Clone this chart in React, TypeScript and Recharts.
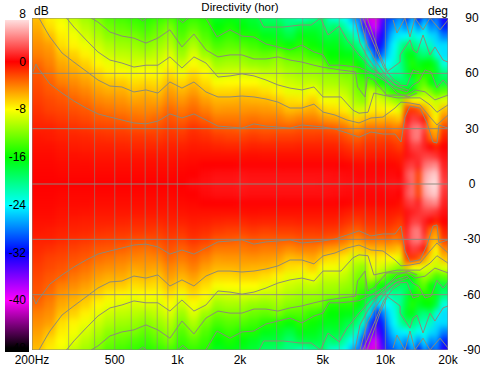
import { Bar, BarChart, Scatter, ScatterChart, XAxis, YAxis } from 'recharts';

const FONT = '"Liberation Sans", sans-serif';
const FREQ_TICKS = [200, 500, 1000, 2000, 5000, 10000, 20000];
const ANGLE_TICKS = [90, 60, 30, 0, -30, -60, -90];
const DB_TICKS = [8, 0, -8, -16, -24, -32, -40, -48];
const MINOR_FREQS = [300, 400, 500, 600, 700, 800, 900, 1000, 2000, 3000, 4000, 5000, 6000, 7000, 8000, 9000, 10000];
const MAJOR_ANGLES = [60, 30, 0, -30, -60];
const BORDER_FREQS = [200, 20000];
const BORDER_ANGLES = [90, -90];

// rows of the map, the picture is mirrored around 0 deg
const ANGLES = [90, 85, 80, 75, 70, 65, 60, 55, 50, 45, 40, 35, 30, 25, 20, 15, 10, 5, 0];
const FREQS = [
  214, 244, 279, 318, 364, 415, 474, 541, 618, 706, 806, 921, 1052, 1201, 1372, 1567, 1790, 2044, 2334, 2666, 3044,
  3477, 3971, 4535, 5012, 5356, 5724, 6117, 6537, 6986, 7466, 7979, 8527, 9113, 9739, 10408, 11123, 11887, 12704,
  13577, 14509, 15506, 16571, 17709, 18926,
];

// one list per frequency, same order as ANGLES
const DB_BY_FREQ = [
  [-6, -5.5, -5, -4.5, -4, -3.3, -2.7, -2.5, -2.2, -1.9, -1.6, -1.3, -1, -0.7, -0.5, -0.3, -0.2, -0.1, 0],
  [-7.5, -7, -6, -5, -4.5, -4, -3.5, -3, -2.7, -2.3, -2, -1.5, -1, -0.8, -0.5, -0.3, -0.2, -0.1, 0],
  [-8.5, -8, -7.5, -7, -6, -5.3, -4.7, -4, -3, -2.6, -2.2, -1.8, -1.3, -1, -0.7, -0.5, -0.3, -0.2, 0],
  [-10, -9, -8.3, -7.7, -6.6, -5.8, -5.2, -4.4, -3.7, -3, -2.5, -2, -1.5, -1.1, -0.8, -0.5, -0.3, -0.2, 0],
  [-11, -10.2, -9.4, -8.5, -7.6, -6.6, -5.8, -5, -4.2, -3.5, -2.8, -2.3, -1.7, -1.2, -0.9, -0.6, -0.3, -0.2, 0],
  [-12.2, -11.3, -10.5, -9.6, -8.7, -7.8, -6.7, -5.8, -5, -4.2, -3.4, -2.7, -2, -1.4, -1, -0.7, -0.4, -0.2, 0],
  [-13.5, -12.5, -11.6, -10.5, -9.6, -8.5, -7.6, -6.3, -5.4, -4.5, -3.7, -2.8, -2.1, -1.5, -1, -0.7, -0.4, -0.2, 0],
  [-14, -13, -12, -11, -10, -9, -7.8, -6.4, -5.4, -4.6, -3.9, -3, -2.2, -1.6, -1.1, -0.7, -0.4, -0.2, 0],
  [-14.5, -13.5, -12.2, -11.2, -10.2, -9.3, -8.3, -7, -6, -5.1, -4.2, -3.4, -2.4, -1.7, -1.2, -0.7, -0.4, -0.2, 0],
  [-15, -14, -13, -11.7, -10.5, -9.1, -8, -6.8, -5.8, -5, -4.3, -3.5, -2.5, -1.7, -1.2, -0.7, -0.4, -0.2, 0],
  [-14.5, -13.2, -12.2, -11.1, -10, -9.1, -8.2, -7, -6.1, -5.1, -4.2, -3.2, -2.4, -1.8, -1.2, -0.7, -0.4, -0.2, 0],
  [-14, -12.3, -11.3, -10.4, -9.2, -8.2, -7.2, -6, -5, -4.2, -3.3, -2.6, -2, -1.5, -1, -0.7, -0.4, -0.2, 0],
  [-15, -14.2, -13.4, -12.1, -11, -9.6, -8.3, -6.8, -5.6, -4.7, -3.8, -3, -2.2, -1.6, -1, -0.6, -0.3, -0.1, 0],
  [-14.5, -13.3, -11.8, -10.5, -9.2, -8.2, -7, -6, -5, -4, -3.3, -2.5, -1.6, -1.2, -0.8, -0.5, -0.2, 0, 0.3],
  [-15, -14.3, -13.5, -12.4, -11, -9.1, -7.9, -7, -6, -5, -4, -3, -2, -1.4, -0.9, -0.5, 0, 0.3, 0.5],
  [-17, -16, -15, -13.7, -12.3, -11, -9.6, -8.2, -6.8, -5.6, -4.8, -3.8, -2.7, -1.8, -1.1, -0.5, 0, 0.5, 0.7],
  [-16.5, -15.3, -14.3, -13.2, -12, -10.7, -9.4, -8, -6.8, -5.6, -4.7, -3.8, -2.8, -2, -1.2, -0.5, 0, 0.5, 0.7],
  [-17, -16.2, -15, -13.5, -12, -10.8, -9.2, -8, -6.6, -5.5, -4.7, -3.8, -3, -2, -1.2, -0.5, 0.1, 0.6, 0.8],
  [-17.7, -17, -15.2, -14, -12.6, -11.3, -9.4, -8, -6.6, -5.6, -4.6, -3.6, -2.7, -1.8, -1, -0.4, 0.1, 0.5, 0.7],
  [-19.2, -18, -16.6, -14.8, -13, -11.5, -9.9, -8.6, -7.1, -5.7, -4.8, -3.9, -2.9, -2, -1.1, -0.5, 0.1, 0.5, 0.7],
  [-19.5, -18, -17, -15.2, -12.3, -11, -9.9, -9, -7.7, -6.2, -5, -3.9, -2.9, -1.9, -1.1, -0.5, 0.1, 0.5, 0.7],
  [-20.5, -19.5, -18, -15.8, -13.5, -11.7, -10.6, -9.6, -8.7, -7, -5.9, -4.4, -2.9, -1.9, -1.1, -0.5, 0.1, 0.5, 0.7],
  [-22, -18, -16.5, -15, -13.5, -12, -11, -10, -8.8, -7.2, -5.6, -4, -2.6, -1.8, -1, -0.5, 0.1, 0.5, 0.7],
  [-21, -17.8, -16.7, -15.7, -14.4, -12.2, -11.1, -10, -8.2, -6.5, -5.3, -4, -2.6, -1.8, -1, -0.5, 0.1, 0.5, 0.7],
  [-19, -18.3, -17.5, -16.5, -15, -12.5, -11.4, -10.6, -9.6, -8.2, -6.4, -4.6, -2.6, -1.7, -1, -0.5, 0.1, 0.5, 0.6],
  [-22, -20, -18, -16.8, -16, -15, -11.6, -10.7, -9.6, -8.3, -6.9, -4.9, -2.8, -1.8, -1, -0.5, 0.1, 0.5, 0.6],
  [-23, -19, -17.6, -16.7, -16, -15.1, -11.6, -10.8, -9.6, -8.3, -6.9, -5, -2.9, -1.8, -1, -0.5, 0.1, 0.4, 0.6],
  [-23, -20, -18, -17, -16.2, -15, -12, -11, -9.8, -8.7, -7.3, -5.3, -3.3, -2, -1.2, -0.6, 0, 0.4, 0.6],
  [-24, -22, -19.5, -18, -16.5, -15, -12.5, -11.3, -10.2, -9, -7.7, -5.7, -3.7, -2.5, -1.5, -0.8, -0.1, 0.3, 0.5],
  [-27, -24, -21, -18.5, -16.5, -15, -12.2, -11.7, -11.2, -10.5, -9.5, -6.8, -4.5, -2.9, -1.8, -1, -0.2, 0.3, 0.5],
  [-28, -26, -23, -20, -18, -16, -14.5, -13.5, -12.3, -11, -9.4, -6.6, -4.6, -3, -1.9, -1, -0.3, 0.2, 0.4],
  [-38, -33, -27.5, -23, -20, -17.5, -15.5, -13.5, -12.5, -11.8, -9.3, -6, -3.7, -2.4, -1.5, -1, -0.3, 0.2, 0.4],
  [-41, -38, -35, -30, -25, -21, -17.5, -13.5, -9.5, -8.7, -7.6, -5.7, -3.5, -2.2, -1.4, -0.8, -0.2, 0.2, 0.4],
  [-41, -39, -36, -33.5, -31, -26, -18, -15, -11, -8.8, -7.4, -5.6, -3.6, -2.2, -1.4, -0.8, -0.2, 0.2, 0.4],
  [-35, -33.5, -32.5, -31, -28.5, -24, -20, -16, -12, -9.5, -7.7, -5.7, -3.6, -2.2, -1.4, -0.8, -0.2, 0.2, 0.5],
  [-30, -29, -27.5, -26, -25, -24, -22, -18.5, -14, -10, -8, -5.5, -3.3, -2, -1.2, -0.7, -0.2, 0.3, 0.6],
  [-29, -27, -25, -24, -23.5, -22.5, -20.5, -18.5, -15, -11, -8, -5.8, -4, -2.5, -1.5, -0.8, -0.2, 0.3, 0.7],
  [-27, -26, -24.5, -21, -20, -20.5, -21, -19, -15, -12, -9, -6.5, -3.5, -2.7, -2, -1, -0.5, 0, 0.5],
  [-31, -28, -24, -19, -17, -17.5, -18, -19, -16, -6, -2, 0.5, 1.5, 1, 0.5, 0.5, 1.5, 2.5, 2],
  [-26, -24.5, -22, -19.5, -16.5, -15, -16, -18, -16, -8, -1.5, 2, 3.5, 3.5, 2, 1, 2, 3.5, 3.5],
  [-32, -28, -24, -21, -19, -17, -15, -14, -13, -8, -2.5, 1.5, 4, 4, 2, 1.5, 1, -2, -2],
  [-27, -24.5, -23, -22, -20, -16, -15.5, -13, -11, -9, -5, -0.5, 2, 1, 1, 2, 3.5, 5, 5.5],
  [-30, -28, -25, -22, -19, -16, -15, -16, -12, -9, -7, -6, -5, -3.5, 0, 2, 4, 6, 6.5],
  [-28, -27, -25.5, -25, -23, -18, -17, -18, -14, -10, -9, -8, -6, -5, -1, 1.5, 4.5, 6.5, 7],
  [-33, -31, -28, -25, -25, -23, -20, -18, -13, -9, -6, -4, -2, -1, 0, 0.5, 1, 1.5, 2],
];

// grey contour lines: [Hz, deg]
const CONTOUR_3 = [
  [202, 60.8], [209, 65.1], [214, 62.9], [244, 54.2], [279, 49.3], [318, 45], [364, 41.2], [415, 38], [474, 36.3],
  [541, 34.7], [618, 33.1], [706, 32.6], [806, 34.1], [921, 38], [1052, 35.8], [1201, 38], [1372, 34.7],
  [1567, 31.4], [1790, 30.9], [2044, 30.3], [2334, 32.6], [2666, 31.4], [3044, 30.9], [3477, 30.3], [3971, 32],
  [4535, 31.4], [5012, 30.9], [5724, 29.8], [6537, 27.7], [7466, 25.4], [8527, 28.2], [9739, 27.1], [11123, 27.1],
  [11887, 22.8], [12420, 36.3], [13130, 42.2], [14680, 41.1], [15860, 33.1], [16940, 22.8], [17700, 22.2], [18100, 32],
  [20000, 30.3],
];
const CONTOUR_6 = [
  [216, 90], [236, 82.4], [244, 79.7], [279, 71], [318, 66.1], [364, 61.2], [415, 56.4], [474, 53.1], [541, 52.6],
  [618, 49.9], [706, 51], [806, 49.3], [921, 55.3], [1052, 52], [1201, 55.3], [1372, 49.9], [1567, 47.2],
  [1790, 47.2], [2044, 47.7], [2334, 47.2], [2666, 46.1], [3044, 44.4], [3477, 41.2], [3971, 41.2], [4535, 43.3],
  [5012, 39], [5724, 37.4], [6537, 34.7], [7466, 33.1], [8527, 35.8], [9739, 36.3], [11123, 41.2], [11887, 44.4],
  [13130, 43.9], [14680, 42.9], [16390, 36.3], [17700, 32], [20000, 37.4],
];
const CONTOUR_9 = [
  [293, 90], [318, 85.1], [364, 78.1], [415, 71.6], [474, 67.2], [541, 65.6], [618, 63.4], [706, 64.4], [806, 64.4],
  [921, 68.9], [1052, 62.9], [1201, 68.9], [1372, 65.6], [1567, 58], [1790, 58.6], [2044, 59.7], [2334, 58.6],
  [2666, 56.4], [3044, 53.7], [3477, 52], [3971, 51], [4535, 52.6], [5012, 47.2], [6117, 47.2], [6986, 40],
  [7466, 38.4], [8250, 38.9], [8800, 49.3], [9739, 48.2], [11400, 46.7], [12700, 46.7], [14680, 46.7], [16390, 42.9],
  [17700, 38.9], [20000, 42.9],
];
const CONTOUR_12 = [
  [385, 90], [415, 87.8], [474, 82.4], [541, 80.2], [618, 79.1], [706, 76.4], [806, 79.1], [921, 83.6], [1052, 74.3],
  [1201, 81.3], [1372, 72.7], [1567, 68.9], [1790, 70], [2044, 70], [2334, 67.8], [2666, 67.8], [3044, 68.9],
  [3477, 67.2], [3971, 66.1], [4535, 64.4], [5012, 63.3], [6117, 61.8], [7180, 60.8], [7350, 52.6], [7979, 47.2],
  [8200, 58], [8800, 56.4], [10150, 48.2], [12700, 48.2], [13850, 51], [15500, 50], [17300, 45.6], [20000, 48.2],
];
const CONTOUR_15 = [
  [1370, 90], [1550, 79.7], [1790, 83.6], [2044, 80.2], [2334, 79.7], [2666, 75.9], [3044, 74.3], [3477, 72.7],
  [3971, 75.3], [4535, 71.6], [5012, 70], [5356, 64.4], [6117, 64.4], [7466, 63.3], [8527, 60.2], [9739, 56.4],
  [11123, 52], [12700, 49.9], [13577, 53.7], [14509, 55.6], [15500, 61.8], [16571, 60.8], [17700, 52.2], [18926, 56.4],
  [20000, 53.3],
];
const CONTOUR_18 = [
  [2470, 90], [2600, 85.1], [3230, 85.1], [3890, 86.2], [4400, 86.2], [4880, 90], [5300, 80.8], [6000, 85.6],
  [6537, 78.1], [7466, 70], [8527, 62.9], [9739, 58.9], [11123, 53.7], [12700, 53.3], [13577, 61.8], [14509, 60.8],
];
const CONTOUR_21 = [
  [7145, 90], [7550, 76.4], [8250, 68.3], [9420, 59.1], [11370, 49.3], [12850, 47.2], [14190, 49.3],
];
const CONTOUR_24 = [[7550, 90], [8170, 75.3], [8910, 67.2], [10000, 59.1], [11370, 53.1], [12850, 51]];
const CONTOUR_27 = [[7800, 90], [9000, 73.3], [9800, 63.3], [10900, 56.7], [11770, 54.4]];
const CONTOUR_30 = [[8170, 90], [9420, 70], [10000, 63.3], [10180, 61.7]];
const LOBES_21 = [
  [10180, 60.8], [11770, 66.1], [11770, 70], [13130, 78.1], [13577, 72.7], [14190, 71.1], [15170, 80.8], [16390, 70],
  [17310, 74.3], [18926, 67.2], [20000, 66.1],
];
const LOBES_24 = [
  [10890, 88.9], [11370, 81.9], [12420, 90], [13130, 79.7], [13870, 90], [15170, 83.6], [16390, 90], [18320, 83.6],
  [20000, 88.9],
];
const SPOT_A = [[650, 90], [680, 88.5], [710, 90]];
const SPOT_B = [[1000, 90], [1060, 87.5], [1130, 90]];
const CONTOURS = [
  CONTOUR_3, CONTOUR_6, CONTOUR_9, CONTOUR_12, CONTOUR_15, CONTOUR_18, CONTOUR_21, CONTOUR_24, CONTOUR_27, CONTOUR_30,
  LOBES_21, LOBES_24, SPOT_A, SPOT_B,
];

const COLOR_STOPS: [number, number[]][] = [
  [8, [255, 255, 255]],
  [0, [255, 0, 0]],
  [-8, [255, 255, 0]],
  [-16, [0, 255, 0]],
  [-24, [0, 255, 255]],
  [-32, [0, 0, 255]],
  [-40, [255, 0, 255]],
  [-48, [0, 0, 0]],
];

function dbColor(db: number) {
  for (let i = 0; i < COLOR_STOPS.length - 1; i++) {
    const [hi, c1] = COLOR_STOPS[i];
    const [lo, c2] = COLOR_STOPS[i + 1];
    if (db <= hi && db >= lo) {
      const t = (hi - db) / (hi - lo);
      return `rgb(${c1.map((c, k) => Math.round(c + (c2[k] - c) * t)).join(',')})`;
    }
  }
  return db > 8 ? '#fff' : '#000';
}

// the plot is 416px wide for two decades
const PX_PER_DECADE = 208;
const ROW_PX = 9.23;
const OUTER_PX = 16;

function colEdges(i: number) {
  const left = i === 0 ? OUTER_PX : (PX_PER_DECADE * Math.log10(FREQS[i] / FREQS[i - 1])) / 2;
  const right = i === FREQS.length - 1 ? OUTER_PX : (PX_PER_DECADE * Math.log10(FREQS[i + 1] / FREQS[i])) / 2;
  return { left, right };
}

const heatData = FREQS.flatMap((f, i) =>
  ANGLES.flatMap((a, j) => {
    const db = DB_BY_FREQ[i][j];
    return a === 0 ? [{ f, a, db, i }] : [{ f, a, db, i }, { f, a: -a, db, i }];
  }),
);

function HeatCell(props: any) {
  const { cx, cy, payload } = props;
  const { left, right } = colEdges(payload.i);
  const edge = Math.abs(payload.a) === 90;
  const up = edge && payload.a > 0 ? OUTER_PX : ROW_PX / 2;
  const down = edge && payload.a < 0 ? OUTER_PX : ROW_PX / 2;
  return (
    <rect
      x={cx - left - 0.5}
      y={cy - up - 0.5}
      width={left + right + 1}
      height={up + down + 1}
      fill={dbColor(payload.db)}
    />
  );
}

const NoDot = () => null;

function AngleTick({ x, y, payload }: any) {
  return (
    <text x={x + 16} y={y + 4} textAnchor="middle" fontSize={12} fontFamily={FONT} fill="#000">
      {payload.value}
    </text>
  );
}

function DbTick({ y, payload }: any) {
  return (
    <text x={26} y={y + 4} textAnchor="end" fontSize={12} fontFamily={FONT} fill="#000">
      {payload.value}
    </text>
  );
}

function formatFreq(f: number) {
  if (f === 200) return '200Hz';
  return f >= 1000 ? `${f / 1000}k` : String(f);
}

function greyLine(key: string, data: { f: number; a: number }[], stroke: string, opacity = 1) {
  return (
    <Scatter
      key={key}
      data={data}
      line={{ stroke, strokeWidth: 1, strokeOpacity: opacity }}
      shape={NoDot}
      isAnimationActive={false}
    />
  );
}

export default function App() {
  return (
    <div style={{ position: 'absolute', left: 0, top: 0, width: 480, height: 368, background: '#fff', overflow: 'hidden' }}>
      <svg width={0} height={0} style={{ position: 'absolute' }}>
        <defs>
          <filter id="heatBlur" filterUnits="userSpaceOnUse" x={32} y={18} width={416} height={332} colorInterpolationFilters="sRGB">
            <feGaussianBlur stdDeviation="2.6 3" />
          </filter>
          <linearGradient id="dbScale" gradientUnits="userSpaceOnUse" x1={0} y1={14} x2={0} y2={348}>
            {COLOR_STOPS.map(([db], i) => (
              <stop key={db} offset={i / (COLOR_STOPS.length - 1)} stopColor={dbColor(db)} />
            ))}
          </linearGradient>
        </defs>
      </svg>
      <style>{`.heat { filter: url(#heatBlur); }`}</style>

      <div style={{ position: 'absolute', left: 0, top: 0 }}>
        <ScatterChart width={480} height={368} margin={{ top: 18, right: 0, bottom: 0, left: 32 }}>
          <XAxis
            type="number"
            dataKey="f"
            scale="log"
            domain={[200, 20000]}
            ticks={FREQ_TICKS}
            interval={0}
            height={18}
            allowDataOverflow
            axisLine={false}
            tickLine={false}
            tickMargin={0}
            tickFormatter={formatFreq}
            tick={{ fontSize: 12, fontFamily: FONT, fill: '#000', dy: -1 }}
          />
          <YAxis
            type="number"
            dataKey="a"
            orientation="right"
            domain={[-90, 90]}
            ticks={ANGLE_TICKS}
            interval={0}
            width={32}
            allowDataOverflow
            axisLine={false}
            tickLine={false}
            tick={AngleTick}
          />
          <Scatter className="heat" data={heatData} shape={HeatCell} isAnimationActive={false} />
          {MINOR_FREQS.map((f) => greyLine(`v${f}`, [{ f, a: -90 }, { f, a: 90 }], '#8c8a80', 0.6))}
          {MAJOR_ANGLES.map((a) => greyLine(`h${a}`, [{ f: 200, a }, { f: 20000, a }], '#8c8a80', 0.95))}
          {CONTOURS.flatMap((pts, n) =>
            [1, -1].map((sign) =>
              greyLine(`c${n}${sign}`, pts.map(([f, a]) => ({ f, a: a * sign })), '#8c8a78'),
            ),
          )}
          {BORDER_FREQS.map((f) => greyLine(`bv${f}`, [{ f, a: -90 }, { f, a: 90 }], '#808080'))}
          {BORDER_ANGLES.map((a) => greyLine(`bh${a}`, [{ f: 200, a }, { f: 20000, a }], '#808080'))}
          <text x={240} y={11} textAnchor="middle" fontSize={11.5} fontFamily={FONT} fill="#000">
            Directivity (hor)
          </text>
          <text x={34} y={15} fontSize={12} fontFamily={FONT} fill="#000">
            dB
          </text>
          <text x={428} y={15} fontSize={12} fontFamily={FONT} fill="#000">
            deg
          </text>
        </ScatterChart>
      </div>

      {/* colour scale on the left */}
      <div style={{ position: 'absolute', left: 0, top: 0 }}>
        <BarChart
          width={32}
          height={368}
          data={[{ name: 'dB', range: [-48.67, 7] }]}
          margin={{ top: 14, right: 3, bottom: 16, left: 4 }}
          barCategoryGap={0}
        >
          <XAxis hide dataKey="name" />
          <YAxis
            type="number"
            domain={[-48.67, 8]}
            ticks={DB_TICKS}
            width={1}
            axisLine={false}
            tickLine={false}
            interval={0}
            tick={DbTick}
            allowDataOverflow
          />
          <Bar dataKey="range" fill="url(#dbScale)" isAnimationActive={false} />
        </BarChart>
      </div>
    </div>
  );
}
